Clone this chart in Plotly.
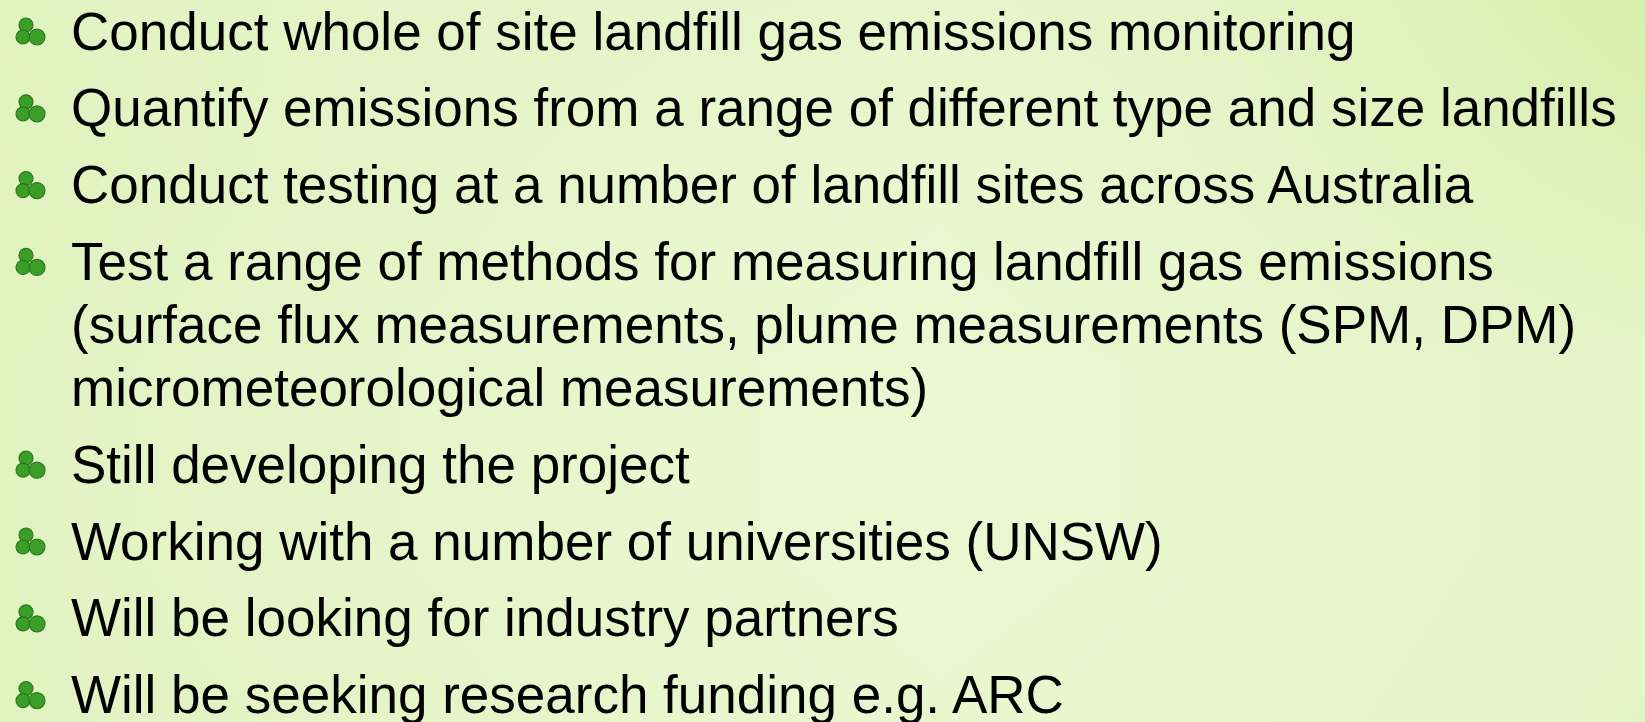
import plotly.graph_objects as go

# ---- content ----
bullets = [
    ["Conduct whole of site landfill gas emissions monitoring"],
    ["Quantify emissions from a range of different type and size landfills"],
    ["Conduct testing at a number of landfill sites across Australia"],
    ["Test a range of methods for measuring landfill gas emissions",
     "(surface flux measurements, plume measurements (SPM, DPM)",
     "micrometeorological measurements)"],
    ["Still developing the project"],
    ["Working with a number of universities (UNSW)"],
    ["Will be looking for industry partners"],
    ["Will be seeking research funding e.g. ARC"],
]

# ---- layout constants (pixels) ----
W, H = 1645, 722
FONT = "Liberation Sans, Arial, sans-serif"
FSIZE = 53
TEXT_X = 69
FIRST_CENTER = 31
BULLET_PITCH = 76.8
WRAP_PITCH = 63
BULLET_X = 30

# background brightness grid (0 = deeper green, 1 = lightest)
bg_z = [
    [0.50, 0.55, 0.60, 0.65, 0.70, 0.60, 0.40, 0.15],
    [0.45, 0.55, 0.65, 0.75, 0.80, 0.70, 0.50, 0.35],
    [0.50, 0.60, 0.70, 0.80, 0.85, 0.80, 0.70, 0.60],
    [0.50, 0.60, 0.70, 0.80, 0.85, 0.80, 0.70, 0.60],
    [0.50, 0.55, 0.65, 0.75, 0.80, 0.75, 0.65, 0.55],
]
bg_scale = [[0.0, "#d3eca2"], [0.5, "#e2f3c2"], [1.0, "#eef9d8"]]

fig = go.Figure()
ny, nx = len(bg_z), len(bg_z[0])
fig.add_trace(go.Heatmap(
    z=bg_z, x0=0, dx=W / (nx - 1), y0=0, dy=H / (ny - 1),
    colorscale=bg_scale, zmin=0, zmax=1, zsmooth="best",
    showscale=False, hoverinfo="skip"))

# compute line centres
centers = []
y = FIRST_CENTER
for lines in bullets:
    block = []
    for j, _ in enumerate(lines):
        block.append(y + j * WRAP_PITCH)
    centers.append(block)
    y = block[-1] + BULLET_PITCH

# shamrock bullets: three leaves
leaf_dx = [-4, -7, 7]
leaf_dy = [-6, 6, 6]
leaf_size = [14, 14, 16]
bx, by, bs = [], [], []
for block in centers:
    for dx, dy, s in zip(leaf_dx, leaf_dy, leaf_size):
        bx.append(BULLET_X + dx)
        by.append(block[0] + dy)
        bs.append(s)
fig.add_trace(go.Scatter(
    x=bx, y=by, mode="markers", hoverinfo="skip",
    marker=dict(size=bs, color="#3a9e29", opacity=1,
                line=dict(color="#2a7a1a", width=1.2))))

for lines, block in zip(bullets, centers):
    for txt, cy in zip(lines, block):
        fig.add_annotation(x=TEXT_X, y=cy, text=txt, showarrow=False,
                           xanchor="left", yanchor="middle", xref="x", yref="y",
                           font=dict(family=FONT, size=FSIZE, color="#000000"))

fig.update_layout(
    width=W, height=H, margin=dict(l=0, r=0, t=0, b=0),
    paper_bgcolor="#e4f4c6", plot_bgcolor="#e4f4c6", showlegend=False,
    xaxis=dict(range=[0, W], visible=False, fixedrange=True),
    yaxis=dict(range=[H, 0], visible=False, fixedrange=True),
)
fig.write_html(
    "out.html",
    config={"displayModeBar": False},
    post_script="document.body.style.margin='0';document.body.style.overflow='hidden';"
                "document.body.style.background='#e4f4c6';",
)
